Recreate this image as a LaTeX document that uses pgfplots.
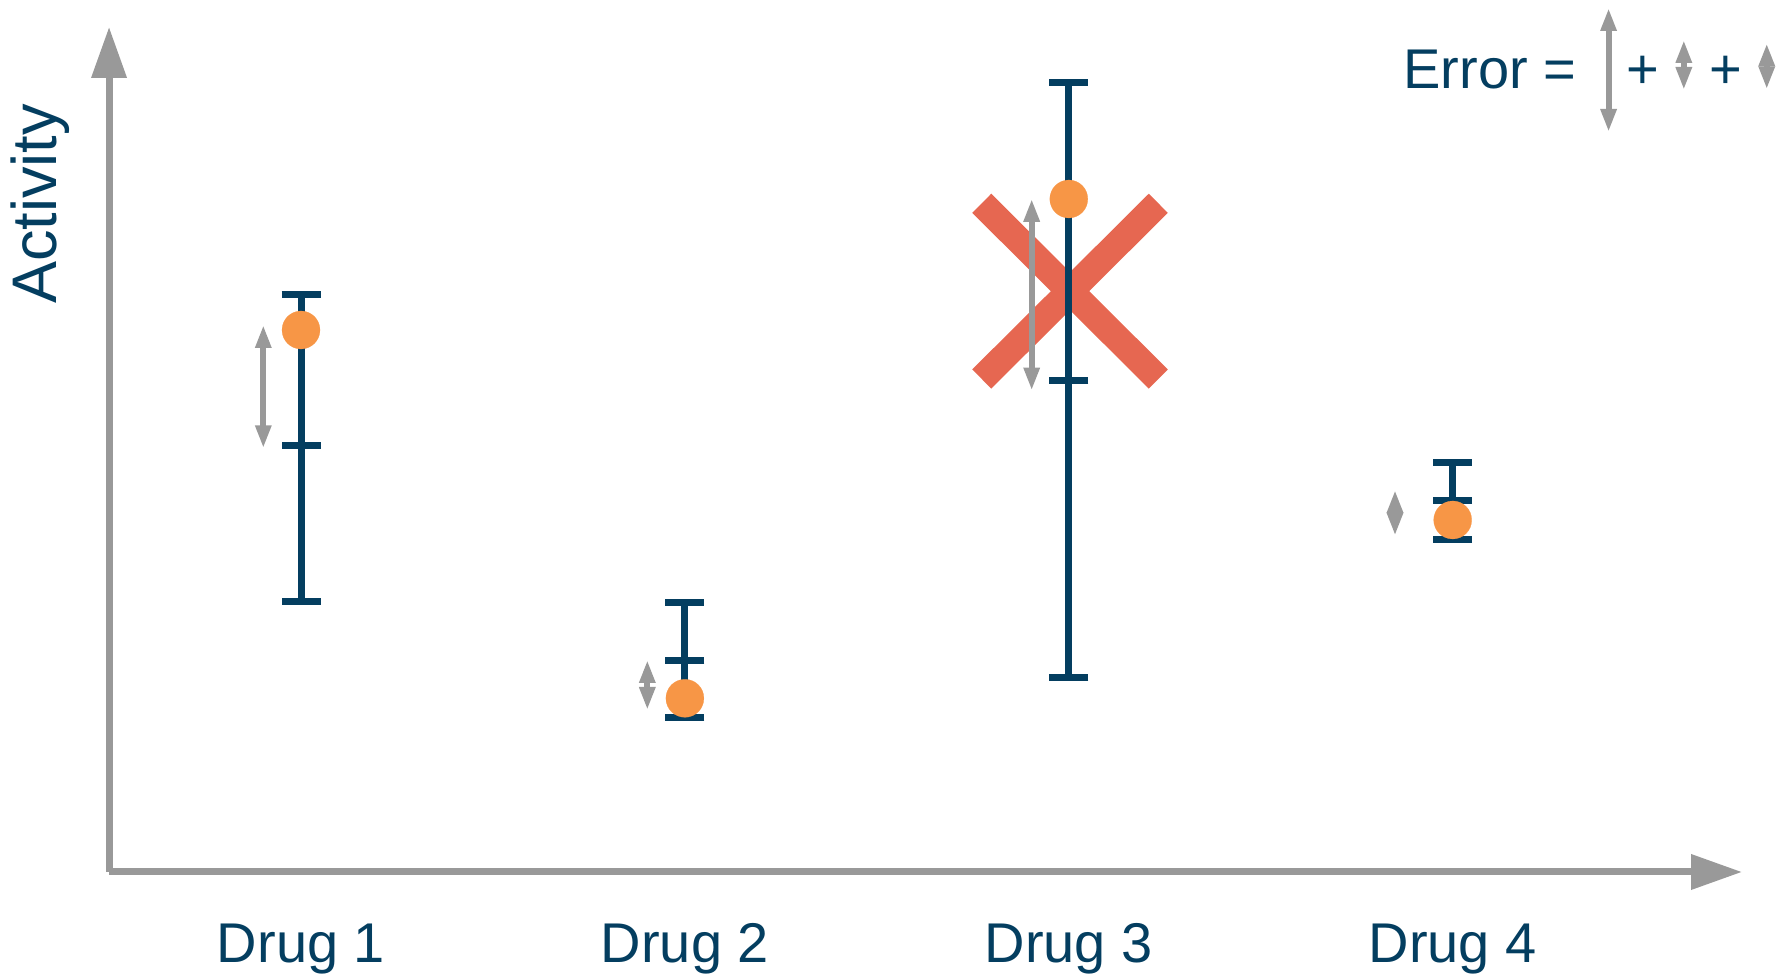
\documentclass[border=0pt]{standalone}
\usepackage{pgfplots}
\pgfplotsset{compat=1.18}
\usepackage{pgfplotstable}
\usepackage{fontspec}
\setmainfont{Liberation Sans}
\usetikzlibrary{arrows.meta}
\definecolor{navy}{RGB}{4,62,96}
\definecolor{dotorange}{RGB}{247,150,70}
\definecolor{crossred}{RGB}{230,103,81}
\definecolor{axisgray}{RGB}{153,153,153}

% error bars: centre, plus, minus
\pgfplotstableread{
x y ep em
1 42.60 15.10 15.60
2 21.17 5.73 5.74
3 49.10 29.80 29.70
4 37.13 3.77 3.93
}\bars
% orange points
\pgfplotstableread{
x y
1 54.20
2 17.37
3 67.30
4 35.20
}\dots

\newcommand{\lab}{\fontsize{28}{34}\selectfont}
\newcommand{\ylab}{\fontsize{31.5}{37}\selectfont}
\tikzset{garrow/.style={draw=axisgray, line width=3pt,
  {Triangle[length=11.5pt,width=7.5pt]}-{Triangle[length=11.5pt,width=7.5pt]}}}

\begin{document}
\begin{tikzpicture}
\begin{axis}[
  scale only axis, width=816.5pt, height=422.5pt,
  xmin=0.5, xmax=4.7536, ymin=0, ymax=84.5,
  axis x line=bottom, axis y line=left,
  axis line style={draw=axisgray, line width=3.5pt},
  every outer x axis line/.append style={-{Triangle[length=25.5pt,width=17pt]}},
  every outer y axis line/.append style={-{Triangle[length=25.5pt,width=17pt]}},
  xtick={1,2,3,4}, xticklabels={Drug 1,Drug 2,Drug 3,Drug 4},
  ytick=\empty, major tick length=0pt, xtick style={draw=none},
  xticklabel style={font=\lab, text=navy, anchor=base, yshift=-45.5pt, inner sep=0pt},
  ylabel={Activity},
  ylabel style={at={(axis cs:0.3644,66.8)}, anchor=base, inner sep=0pt, font=\ylab, text=navy},
  clip=false,
]
% invisible frame = full picture
\path (axis cs:0.21594,-10.4) rectangle (axis cs:4.84215,87.2);

% exclusion cross
\addplot[crossred, line width=13.5pt] coordinates {(2.7732,66.87) (3.2331,49.3)};
\addplot[crossred, line width=13.5pt] coordinates {(2.7732,49.3) (3.2331,66.87)};

% error components (grey arrows)
\addplot[garrow] coordinates {(0.9018,54.70) (0.9018,42.37)};
\addplot[garrow] coordinates {(1.9021,21.20) (1.9021,16.20)};
\addplot[garrow] coordinates {(2.9033,67.32) (2.9033,48.14)};
\addplot[garrow] coordinates {(3.8497,38.20) (3.8497,33.63)};

% error bars
\addplot[navy, only marks, mark=-, mark size=9.75pt, mark options={line width=3.5pt},
  error bars/.cd, y dir=both, y explicit, error mark=|,
  error mark options={navy, line width=3.5pt, mark size=9.75pt},
  error bar style={navy, line width=3.5pt}]
  table[x=x, y=y, y error plus=ep, y error minus=em] {\bars};

% points
\addplot[dotorange, only marks, mark=*, mark size=9.5pt,
  mark options={draw=dotorange, fill=dotorange, line width=0.1pt}]
  table[x=x, y=y] {\dots};

% legend: Error = big + small + diamond
\node[anchor=base east, inner sep=0pt, font=\lab, text=navy] at (axis cs:4.323,78.3) {Error =};
\addplot[garrow] coordinates {(4.406,86.4) (4.406,74.0)};
\node[anchor=base, inner sep=0pt, font=\lab, text=navy] at (axis cs:4.4957,78.3) {+};
\addplot[garrow] coordinates {(4.602,83.2) (4.602,78.2)};
\node[anchor=base, inner sep=0pt, font=\lab, text=navy] at (axis cs:4.712,78.3) {+};
\addplot[garrow] coordinates {(4.818,82.87) (4.818,78.27)};
\end{axis}
\end{tikzpicture}
\end{document}
